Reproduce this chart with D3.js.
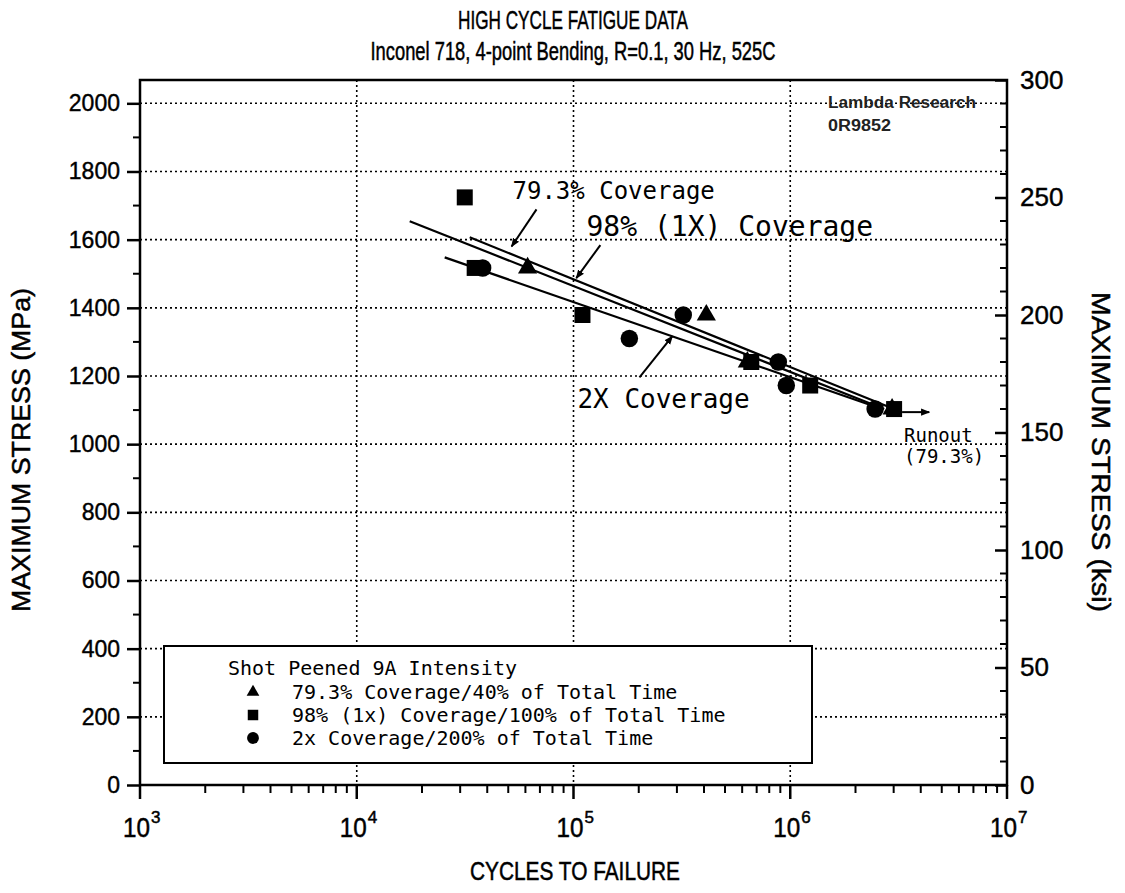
<!DOCTYPE html>
<html>
<head>
<meta charset="utf-8">
<script src="https://cdn.jsdelivr.net/npm/d3@7"></script>
<style>
  body { margin: 0; background: #fff; }
  svg { display: block; }
</style>
</head>
<body>
<div id="chart"></div>
<script>
// data (stress in MPa)
var triCycles = [61400, 410000, 634000, 2950000];
var triStress = [1517, 1379, 1241, 1103];
var sqCycles = [31500, 35000, 110000, 661000, 1236000, 3014000];
var sqStress = [1724, 1517, 1379, 1241, 1172, 1103];
var cirCycles = [38100, 181000, 321000, 881000, 959000, 2464000];
var cirStress = [1517, 1310, 1379, 1241, 1172, 1103];

// fitted lines, end points
var fitCycles79 = [33200, 2800000];
var fitStress79 = [1607, 1111];
var fitCycles98 = [17550, 2712000];
var fitStress98 = [1654, 1103];
var fitCycles2x = [25450, 2570000];
var fitStress2x = [1548, 1106];

var mpaTicks = [0, 200, 400, 600, 800, 1000, 1200, 1400, 1600, 1800, 2000];
var ksiTicks = [0, 50, 100, 150, 200, 250, 300];
var decades = [1e3, 1e4, 1e5, 1e6, 1e7];
var decadeExp = ["3", "4", "5", "6", "7"];

var legendTitle = "Shot Peened 9A Intensity";
var legendLabels = ["79.3% Coverage/40% of Total Time", "98% (1x) Coverage/100% of Total Time", "2x Coverage/200% of Total Time"];

var w = 1125, h = 893;
var pLeft = 140, pRight = 1007, pTop = 80, pBottom = 785;
var MPA_PER_KSI = 6.894757;

var sans = "'Liberation Sans', Arial, sans-serif";
var mono = "'DejaVu Sans Mono', 'Liberation Mono', monospace";

var svg = d3.select("#chart").append("svg").attr("width", w).attr("height", h);

var xScale = d3.scaleLog().domain([1e3, 1e7]).range([pLeft, pRight]);
var yScale = d3.scaleLinear().domain([0, 300 * MPA_PER_KSI]).range([pBottom, pTop]);
var ksiScale = d3.scaleLinear().domain([0, 300]).range([pBottom, pTop]);

svg.append("defs").append("marker")
    .attr("id", "head")
    .attr("viewBox", "0 0 10 10")
    .attr("refX", 9).attr("refY", 5)
    .attr("markerWidth", 9).attr("markerHeight", 9)
    .attr("markerUnits", "userSpaceOnUse")
    .attr("orient", "auto")
    .append("path").attr("d", "M0,1 L10,5 L0,9 Z").attr("fill", "#000");

// narrow (condensed) label: squeeze the glyphs to a given width, thicken a bit like the scan
function narrowText(sel, width) {
    return sel.attr("font-family", sans)
        .attr("textLength", width)
        .attr("lengthAdjust", "spacingAndGlyphs")
        .attr("stroke", "#000").attr("stroke-width", 0.5);
}

// titles
narrowText(svg.append("text").attr("x", 573).attr("y", 29).attr("text-anchor", "middle")
    .attr("font-size", "26px").text("HIGH CYCLE FATIGUE DATA"), 230);
narrowText(svg.append("text").attr("x", 573).attr("y", 60).attr("text-anchor", "middle")
    .attr("font-size", "26px").text("Inconel 718, 4-point Bending, R=0.1, 30 Hz, 525C"), 405);

// grid (dotted)
var grid = svg.append("g").attr("stroke", "#000").attr("stroke-width", 1.6).attr("stroke-dasharray", "2,3");
grid.selectAll("line.h").data(mpaTicks.filter(function (d) { return d > 0; }))
    .enter().append("line").attr("class", "h")
    .attr("x1", pLeft).attr("x2", pRight)
    .attr("y1", function (d) { return yScale(d); })
    .attr("y2", function (d) { return yScale(d); });
grid.selectAll("line.v").data([1e4, 1e5, 1e6])
    .enter().append("line").attr("class", "v")
    .attr("y1", pTop).attr("y2", pBottom)
    .attr("x1", function (d) { return xScale(d); })
    .attr("x2", function (d) { return xScale(d); });

// legend box (covers grid)
var legend = svg.append("g");
legend.append("rect").attr("x", 164).attr("y", 646).attr("width", 648).attr("height", 117)
    .attr("fill", "#fff").attr("stroke", "#000").attr("stroke-width", 2);
legend.append("text").attr("x", 228).attr("y", 675)
    .attr("font-family", mono).attr("font-size", "20px").text(legendTitle);
var legendShapes = [d3.symbolTriangle, d3.symbolSquare, d3.symbolCircle];
var legendSizes = [70, 110, 110];
legend.selectAll("path.sym").data(legendLabels).enter().append("path")
    .attr("class", "sym")
    .attr("transform", function (d, i) { return "translate(253," + (692 + i * 23) + ")"; })
    .attr("d", function (d, i) { return d3.symbol().type(legendShapes[i]).size(legendSizes[i])(); })
    .attr("fill", "#000");
legend.selectAll("text.lab").data(legendLabels).enter().append("text")
    .attr("class", "lab")
    .attr("x", 292).attr("y", function (d, i) { return 699 + i * 23; })
    .attr("font-family", mono).attr("font-size", "20px").text(function (d) { return d; });

// fitted lines
var fits = [[fitCycles79, fitStress79], [fitCycles98, fitStress98], [fitCycles2x, fitStress2x]];
svg.selectAll("line.fit").data(fits).enter().append("line")
    .attr("class", "fit")
    .attr("x1", function (d) { return xScale(d[0][0]); })
    .attr("y1", function (d) { return yScale(d[1][0]); })
    .attr("x2", function (d) { return xScale(d[0][1]); })
    .attr("y2", function (d) { return yScale(d[1][1]); })
    .attr("stroke", "#000").attr("stroke-width", 2.2);

// data points
function drawPoints(cycles, stress, type, size) {
    svg.append("g").selectAll("path").data(cycles).enter().append("path")
        .attr("transform", function (d, i) {
            return "translate(" + xScale(d) + "," + yScale(stress[i]) + ")";
        })
        .attr("d", d3.symbol().type(type).size(size)())
        .attr("fill", "#000");
}
drawPoints(cirCycles, cirStress, d3.symbolCircle, 240);
drawPoints(sqCycles, sqStress, d3.symbolSquare, 256);
drawPoints(triCycles, triStress, d3.symbolTriangle, 160);

// annotations
function arrow(n1, s1, n2, s2) {
    svg.append("line")
        .attr("x1", xScale(n1)).attr("y1", yScale(s1))
        .attr("x2", xScale(n2)).attr("y2", yScale(s2))
        .attr("stroke", "#000").attr("stroke-width", 2)
        .attr("marker-end", "url(#head)");
}
function note(n, s, txt, size) {
    svg.append("text").attr("x", xScale(n)).attr("y", yScale(s))
        .attr("font-family", mono).attr("font-size", size).text(txt);
}
note(52300, 1718, "79.3% Coverage", "24px");
arrow(67500, 1689, 51800, 1580);
note(114800, 1610, "98% (1X) Coverage", "28px");
arrow(133000, 1584, 103000, 1487);
note(104300, 1106, "2X Coverage", "26px");
arrow(201500, 1196, 286000, 1317);
arrow(3280000, 1094, 4375000, 1094);
note(3350000, 1006, "Runout", "19px");
note(3350000, 946, "(79.3%)", "19px");

svg.append("text").attr("x", 828).attr("y", 108)
    .attr("font-family", sans).attr("font-size", "16px").attr("font-weight", "bold")
    .attr("textLength", 148).attr("lengthAdjust", "spacingAndGlyphs")
    .attr("fill", "#222").text("Lambda Research");
svg.append("text").attr("x", 828).attr("y", 131)
    .attr("font-family", sans).attr("font-size", "16px").attr("font-weight", "bold")
    .attr("textLength", 63).attr("lengthAdjust", "spacingAndGlyphs")
    .attr("fill", "#222").text("0R9852");

// frame
svg.append("rect").attr("x", pLeft).attr("y", pTop).attr("width", pRight - pLeft).attr("height", pBottom - pTop)
    .attr("fill", "none").attr("stroke", "#000").attr("stroke-width", 2.5);

// left axis (MPa)
var yAxis = d3.axisLeft(yScale).tickValues(mpaTicks).tickSize(13).tickFormat(d3.format("d"));
var gy = svg.append("g").attr("transform", "translate(" + pLeft + ",0)").call(yAxis);
gy.select(".domain").remove();
gy.selectAll("line").attr("stroke-width", 2.5);
gy.selectAll("text").attr("font-family", sans).attr("font-size", "23px").attr("fill", "#000")
    .attr("stroke", "#000").attr("stroke-width", 0.4).attr("x", -20);
var minorMpa = d3.range(100, 2100, 200);
svg.append("g").selectAll("line").data(minorMpa).enter().append("line")
    .attr("x1", pLeft - 7).attr("x2", pLeft)
    .attr("y1", function (d) { return yScale(d); }).attr("y2", function (d) { return yScale(d); })
    .attr("stroke", "#000").attr("stroke-width", 2);

// right axis (ksi)
var kAxis = d3.axisRight(ksiScale).tickValues(ksiTicks).tickSize(-12).tickFormat(d3.format("d"));
var gk = svg.append("g").attr("transform", "translate(" + pRight + ",0)").call(kAxis);
gk.select(".domain").remove();
gk.selectAll("line").attr("stroke-width", 2.5);
gk.selectAll("text").attr("font-family", sans).attr("font-size", "26px").attr("fill", "#000")
    .attr("stroke", "#000").attr("stroke-width", 0.4).attr("x", 13);
var minorKsi = d3.range(10, 300, 10).filter(function (d) { return d % 50 !== 0; });
svg.append("g").selectAll("line").data(minorKsi).enter().append("line")
    .attr("x1", pRight - 7).attr("x2", pRight)
    .attr("y1", function (d) { return ksiScale(d); }).attr("y2", function (d) { return ksiScale(d); })
    .attr("stroke", "#000").attr("stroke-width", 2);

// bottom axis (log)
var minorX = [];
for (var i = 0; i < 4; i++) {
    for (var m = 2; m <= 9; m++) {
        minorX.push(decades[i] * m);
    }
}
svg.append("g").selectAll("line").data(minorX).enter().append("line")
    .attr("x1", function (d) { return xScale(d); }).attr("x2", function (d) { return xScale(d); })
    .attr("y1", pBottom).attr("y2", pBottom + 8)
    .attr("stroke", "#000").attr("stroke-width", 2);
svg.append("g").selectAll("line").data(decades).enter().append("line")
    .attr("x1", function (d) { return xScale(d); }).attr("x2", function (d) { return xScale(d); })
    .attr("y1", pBottom).attr("y2", pBottom + 14)
    .attr("stroke", "#000").attr("stroke-width", 2.5);
// "10" with a raised exponent, as one text element
var xl = svg.append("g").selectAll("text").data(decades).enter().append("text")
    .attr("x", function (d) { return xScale(d) - 17; })
    .attr("y", 837)
    .attr("font-family", sans).attr("stroke", "#000").attr("stroke-width", 0.5);
xl.append("tspan").attr("font-size", "28px").attr("textLength", 27).attr("lengthAdjust", "spacingAndGlyphs").text("10");
xl.append("tspan").attr("dx", 1).attr("dy", -14).attr("font-size", "17px")
    .text(function (d, i) { return decadeExp[i]; });

// axis titles
narrowText(svg.append("text").attr("x", 575).attr("y", 880).attr("text-anchor", "middle")
    .attr("font-size", "26px").text("CYCLES TO FAILURE"), 210);
narrowText(svg.append("text").attr("transform", "translate(30,450) rotate(-90)").attr("text-anchor", "middle")
    .attr("font-size", "26px").text("MAXIMUM STRESS (MPa)"), 324);
narrowText(svg.append("text").attr("transform", "translate(1092,452) rotate(90)").attr("text-anchor", "middle")
    .attr("font-size", "26px").text("MAXIMUM STRESS (ksi)"), 320);
</script>
</body>
</html>
